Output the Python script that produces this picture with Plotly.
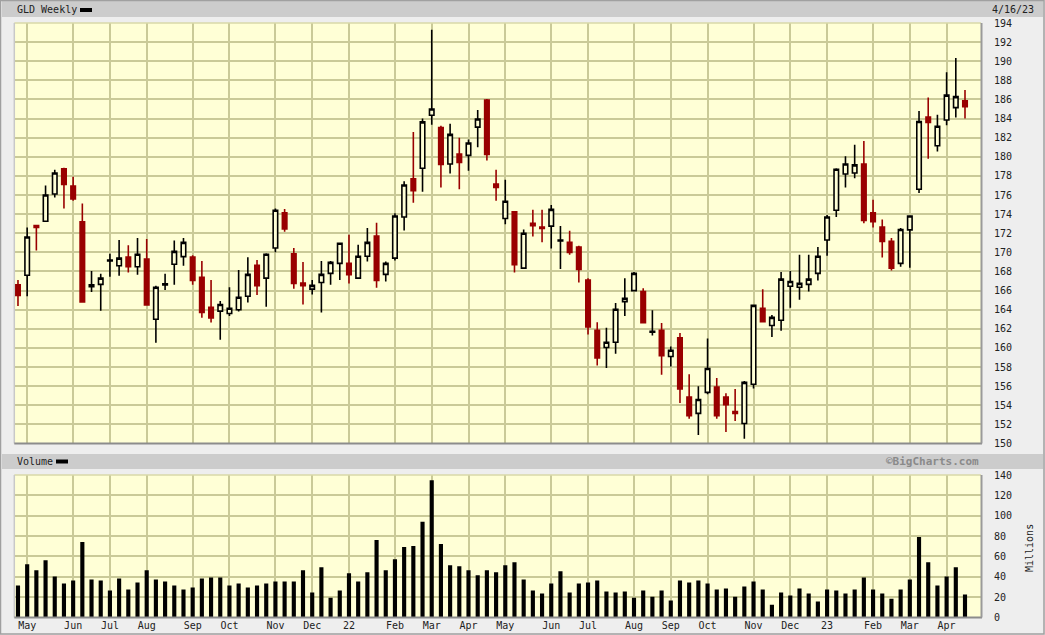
import plotly.graph_objects as go

# ---------------- data (weekly GLD, index 0 = last week of Apr 2021, 103 = week ending 4/14/23)
weeks = list(range(104))

opens = [166.6, 167.6, 172.8, 173.25, 176.1, 178.75, 176.95, 173.2, 166.4, 166.65,
         169.1, 168.6, 169.5, 168.5, 169.3, 163.0, 166.6, 168.75, 169.55, 169.5,
         167.4, 164.25, 163.85, 163.6, 164.0, 165.4, 168.65, 167.3, 170.45, 174.15,
         169.85, 166.8, 166.15, 166.85, 167.8, 168.85, 168.85, 167.3, 169.6, 171.7,
         167.7, 169.4, 173.7, 177.7, 178.8, 184.35, 183.05, 179.25, 180.3, 180.15,
         183.1, 185.95, 177.15, 173.55, 174.25, 168.35, 173.05, 172.65, 172.75, 171.2,
         171.05, 170.55, 167.1, 161.85, 160.05, 160.6, 164.85, 166.0, 165.9, 161.65,
         161.85, 159.1, 161.05, 154.85, 153.15, 155.35, 155.9, 154.85, 153.35, 152.1,
         156.2, 164.15, 162.35, 162.9, 166.45, 166.35, 166.65, 167.8, 171.3, 174.4,
         178.2, 178.3, 179.25, 174.15, 172.65, 171.15, 168.85, 172.35, 176.6, 184.15,
         181.15, 183.85, 185.15, 185.85]
highs = [167.1, 172.6, 172.85, 177.0, 178.65, 178.85, 177.9, 175.1, 168.05, 167.75,
         169.85, 171.3, 170.75, 171.5, 171.4, 166.5, 167.75, 171.25, 171.5, 169.7,
         169.1, 167.1, 164.9, 166.35, 168.15, 169.5, 169.2, 169.9, 174.6, 174.55,
         170.45, 169.0, 167.1, 169.1, 169.1, 171.0, 171.85, 170.8, 172.55, 173.1,
         169.05, 174.1, 177.45, 182.6, 184.0, 193.3, 183.25, 183.45, 182.0, 181.8,
         184.9, 186.05, 178.65, 177.6, 174.3, 172.4, 174.45, 174.45, 174.95, 172.75,
         172.25, 170.7, 167.3, 162.7, 162.1, 164.7, 167.3, 167.95, 166.25, 163.95,
         162.6, 160.15, 161.55, 157.25, 156.0, 161.0, 156.85, 155.25, 155.7, 156.55,
         164.55, 166.15, 163.45, 167.95, 168.05, 169.75, 169.75, 170.55, 173.9, 178.8,
         180.05, 181.25, 181.65, 175.5, 173.45, 171.5, 172.55, 173.8, 184.8, 186.2,
         184.4, 188.85, 190.35, 187.0]
lows = [164.4, 165.4, 170.2, 173.2, 175.75, 174.6, 175.4, 164.75, 165.85, 163.9,
        167.45, 167.55, 167.9, 167.65, 164.45, 160.55, 166.05, 166.6, 168.6, 166.6,
        163.15, 162.65, 160.85, 163.35, 163.8, 164.75, 165.55, 164.3, 170.0, 172.15,
        166.2, 164.55, 165.6, 163.7, 166.6, 167.1, 166.75, 167.2, 169.05, 166.3,
        166.95, 169.15, 172.3, 175.2, 176.35, 183.35, 176.8, 178.25, 176.6, 178.55,
        181.0, 179.6, 175.4, 172.95, 167.9, 168.3, 171.65, 171.05, 170.4, 168.25,
        169.75, 166.85, 161.4, 158.15, 157.9, 159.4, 163.35, 165.9, 162.55, 161.3,
        157.2, 158.05, 154.25, 152.6, 150.9, 155.15, 152.6, 151.2, 152.35, 150.5,
        155.75, 162.65, 161.15, 161.8, 164.2, 165.05, 165.9, 167.05, 169.65, 173.7,
        176.8, 177.75, 173.05, 172.6, 169.45, 168.1, 168.5, 168.4, 176.2, 179.8,
        180.55, 183.3, 184.1, 184.0]
closes = [165.5, 171.6, 172.6, 176.0, 178.3, 177.1, 175.6, 164.8, 166.6, 167.3,
          169.2, 169.4, 168.5, 169.8, 164.5, 166.35, 166.7, 170.1, 171.05, 167.05,
          163.7, 163.15, 164.55, 164.15, 165.3, 167.7, 166.5, 169.8, 174.4, 172.45,
          166.75, 166.5, 166.55, 167.7, 168.95, 170.95, 167.65, 169.6, 171.05, 167.05,
          168.85, 173.8, 177.05, 176.45, 183.65, 185.0, 179.2, 182.35, 179.4, 181.45,
          183.95, 180.25, 176.8, 175.35, 168.7, 172.0, 172.8, 172.5, 174.5, 171.3,
          170.0, 168.2, 162.2, 158.95, 160.6, 164.05, 165.2, 167.8, 162.65, 161.75,
          159.2, 159.75, 155.7, 152.9, 154.6, 157.85, 152.9, 154.05, 153.15, 156.4,
          164.45, 162.75, 163.2, 167.2, 166.95, 166.75, 167.2, 169.6, 173.7, 178.7,
          179.25, 179.15, 173.35, 173.2, 171.15, 168.35, 172.4, 173.8, 183.7, 183.6,
          183.2, 186.45, 186.3, 185.25]
volumes = [31.5, 52.3, 46.4, 56.3, 40.4, 33.4, 36.4, 74.2, 37.4, 36.4,
           26.5, 38.4, 27.5, 34.4, 46.4, 37.4, 35.4, 31.5, 27.5, 29.5,
           38.4, 39.4, 39.4, 31.5, 33.4, 29.5, 31.5, 33.4, 35.4, 35.4,
           35.4, 46.4, 24.5, 49.3, 19.5, 26.5, 43.4, 35.4, 44.4, 76.2,
           46.4, 57.3, 69.2, 70.2, 94.0, 134.8, 72.2, 51.3, 50.3, 46.4,
           41.4, 46.4, 44.4, 51.3, 54.3, 37.4, 26.5, 23.5, 33.4, 45.4,
           24.5, 33.4, 34.4, 36.4, 25.5, 24.5, 25.5, 19.5, 26.5, 20.5,
           26.5, 16.6, 36.4, 34.4, 36.4, 33.4, 27.5, 28.5, 20.5, 30.5,
           35.4, 27.5, 12.6, 24.5, 21.5, 28.5, 23.5, 15.6, 27.5, 26.5,
           23.5, 27.5, 39.4, 27.5, 23.5, 18.5, 27.5, 37.4, 79.1, 54.3,
           31.5, 40.4, 49.3, 22.5]
month_ticks = [1, 6, 10, 14, 19, 23, 28, 32, 36, 41, 45, 49,
               53, 58, 62, 67, 71, 75, 80, 84, 88, 93, 97, 101]
month_labels = ["May", "Jun", "Jul", "Aug", "Sep", "Oct", "Nov", "Dec", "22", "Feb", "Mar", "Apr",
                "May", "Jun", "Jul", "Aug", "Sep", "Oct", "Nov", "Dec", "23", "Feb", "Mar", "Apr"]

# ---------------- styling
W, H = 1045, 635
PLOT_BG = "#FFFFD6"
GRID = "#CACA98"
RED = "#990000"
MONO = "DejaVu Sans Mono"


def X(px):
    return px / W


def Y(py):
    return 1 - py / H


xdom = [X(14.3), X(981)]
ydom_price = [Y(443.5), Y(23)]
ydom_vol = [Y(617.5), Y(475)]
xrange_ = [-0.4, 104.74]

fig = go.Figure()
fig.add_trace(go.Candlestick(
    x=weeks, open=opens, high=highs, low=lows, close=closes,
    xaxis="x", yaxis="y", whiskerwidth=0,
    increasing=dict(line=dict(color="black", width=1.6), fillcolor=PLOT_BG),
    decreasing=dict(line=dict(color=RED, width=1.6), fillcolor=RED),
    showlegend=False, hoverinfo="x+y",
))
fig.add_trace(go.Bar(
    x=weeks, y=volumes, xaxis="x2", yaxis="y2", width=0.45,
    marker=dict(color="black", line=dict(width=0)), showlegend=False,
))

axis_font = dict(family=MONO, size=10, color="#222222")

fig.update_layout(
    width=W, height=H, margin=dict(l=0, r=0, t=0, b=0, pad=0, autoexpand=False),
    paper_bgcolor="#EEEEEE", plot_bgcolor=PLOT_BG,
    showlegend=False,
    xaxis=dict(domain=xdom, range=xrange_, anchor="y", rangeslider=dict(visible=False),
               tickmode="array", tickvals=month_ticks, showticklabels=False,
               showgrid=True, gridcolor=GRID, gridwidth=1.5, zeroline=False, ticks=""),
    yaxis=dict(domain=ydom_price, range=[150, 194], anchor="x", side="right",
               tick0=150, dtick=2, showgrid=True, gridcolor=GRID, gridwidth=1.5,
               zeroline=False, ticks="", tickfont=axis_font, ticklabelstandoff=12),
    xaxis2=dict(domain=xdom, range=xrange_, anchor="y2",
                tickmode="array", tickvals=month_ticks, ticktext=month_labels,
                showgrid=True, gridcolor=GRID, gridwidth=1.5, zeroline=False, ticks="",
                tickfont=axis_font),
    yaxis2=dict(domain=ydom_vol, range=[0, 140], anchor="x2", side="right",
                tick0=0, dtick=20, showgrid=True, gridcolor=GRID, gridwidth=1.5,
                zeroline=False, ticks="", tickfont=axis_font, ticklabelstandoff=12),
)

shapes = []
# header bands
shapes.append(dict(type="rect", xref="paper", yref="paper", x0=X(2), x1=X(1043), y0=Y(17), y1=Y(1),
                   fillcolor="#CCCCCC", line=dict(width=0), layer="below"))
shapes.append(dict(type="rect", xref="paper", yref="paper", x0=X(2), x1=X(1043), y0=Y(469), y1=Y(454),
                   fillcolor="#CCCCCC", line=dict(width=0), layer="below"))
# legend dashes
shapes.append(dict(type="rect", xref="paper", yref="paper", x0=X(80), x1=X(92), y0=Y(12), y1=Y(8),
                   fillcolor="black", line=dict(width=0)))
shapes.append(dict(type="rect", xref="paper", yref="paper", x0=X(56), x1=X(68), y0=Y(463.5), y1=Y(459.5),
                   fillcolor="black", line=dict(width=0)))
# panel borders
for (top, bot) in [(23, 443.5), (475, 617.5)]:
    shapes.append(dict(type="line", xref="paper", yref="paper", x0=X(14.3), x1=X(981), y0=Y(top), y1=Y(top),
                       line=dict(color="#D8D8A8", width=1.5)))
    shapes.append(dict(type="line", xref="paper", yref="paper", x0=X(14.3), x1=X(14.3), y0=Y(bot), y1=Y(top),
                       line=dict(color="#C8C8C8", width=1.5)))
    shapes.append(dict(type="line", xref="paper", yref="paper", x0=X(14.3), x1=X(982), y0=Y(bot), y1=Y(bot),
                       line=dict(color="#8C8C8C", width=2)))
    shapes.append(dict(type="line", xref="paper", yref="paper", x0=X(981.5), x1=X(981.5), y0=Y(bot), y1=Y(top),
                       line=dict(color="#9A9A9A", width=2)))
# outer frame
shapes.append(dict(type="rect", xref="paper", yref="paper", x0=X(0.5), x1=X(1044), y0=Y(634), y1=Y(0.5),
                   fillcolor="rgba(0,0,0,0)", line=dict(color="#A0A0A0", width=1.5)))

annotations = [
    dict(text="GLD Weekly", x=X(15), y=Y(9.5), xanchor="left", yanchor="middle"),
    dict(text="4/16/23", x=X(1036), y=Y(9.5), xanchor="right", yanchor="middle"),
    dict(text="Volume", x=X(15), y=Y(461.5), xanchor="left", yanchor="middle"),
    dict(text="<b>©BigCharts.com</b>", x=X(981), y=Y(461.5), xanchor="right", yanchor="middle",
         font=dict(family=MONO, size=11, color="#8A8A8A")),
    dict(text="Millions", x=X(1029), y=Y(548), xanchor="center", yanchor="middle", textangle=-90),
]
for a in annotations:
    a.setdefault("font", dict(family=MONO, size=10, color="#222222"))
    a.update(xref="paper", yref="paper", showarrow=False)

fig.update_layout(shapes=shapes, annotations=annotations)

fig.write_html(
    "out.html",
    config={"displayModeBar": False, "responsive": False},
    post_script=(
        "document.documentElement.style.margin='0';"
        "document.documentElement.style.overflow='hidden';"
        "document.body.style.margin='0';document.body.style.overflow='hidden';"
        "var d=document.getElementById('{plot_id}');"
        "d.style.position='fixed';d.style.left='0px';d.style.top='0px';"
    ),
)
